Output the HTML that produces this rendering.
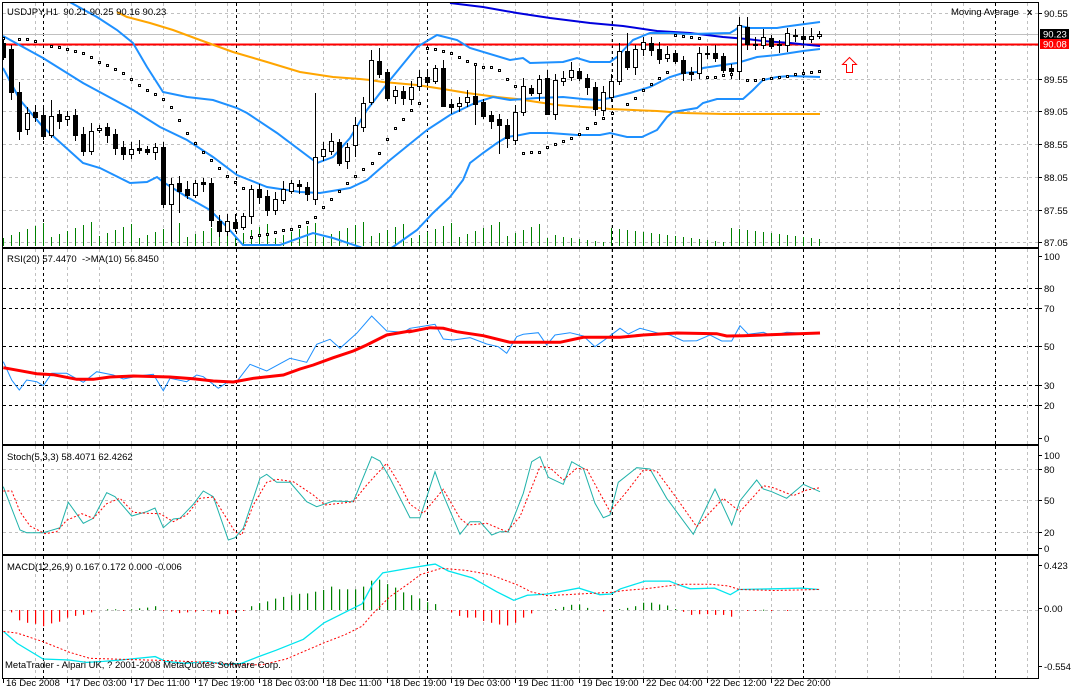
<!DOCTYPE html>
<html><head><meta charset="utf-8"><style>
html,body{margin:0;padding:0;background:#fff;}
svg{display:block;font-family:"Liberation Sans",sans-serif;font-size:9.5px;}
</style></head><body>
<svg id="s" width="1077" height="689" xmlns="http://www.w3.org/2000/svg"></svg>
<script>
var o=[];
function P(a){return a.map(function(p){return p[0].toFixed(1)+','+p[1].toFixed(1)}).join(' ');}
function Z(x0,y0,s,a){return a.map(function(p){return [x0+p[0]/s,y0+p[1]/s]});}
function L(a,c,w,d,clip){o.push('<polyline points="'+P(a)+'" fill="none" stroke="'+c+'" stroke-width="'+w+'"'+(d?' stroke-dasharray="'+d+'"':'')+(clip?' clip-path="url(#'+clip+')"':'')+'/>');}
function T(x,y,t,extra){o.push('<text x="'+x+'" y="'+y+'" '+(extra||'')+'>'+t+'</text>');}
var panels=[[3,247,'cm'],[249,444,'cr'],[446,554,'cs'],[556,678,'cd']];
o.push('<defs>');
panels.forEach(function(p){o.push('<clipPath id="'+p[2]+'"><rect x="3" y="'+p[0]+'" width="1036" height="'+(p[1]-p[0])+'"/></clipPath>');});
o.push('</defs>');
panels.forEach(function(p){
 for(var k=1;k<=32;k++){var x=3+32*k+0.5;o.push('<line x1="'+x+'" y1="'+p[0]+'" x2="'+x+'" y2="'+p[1]+'" stroke="#c0c0c0" stroke-dasharray="3,3"/>');}
});
function H(y,c){o.push('<line x1="3" y1="'+(y+.5)+'" x2="1039" y2="'+(y+.5)+'" stroke="'+c+'" stroke-dasharray="3,3"/>');}
[13,45,79,111,144,177,210,242].forEach(function(y){H(y,'#c0c0c0')});
[288,308,346,385,405].forEach(function(y){H(y,'#000')});
[469,500,532].forEach(function(y){H(y,'#c0c0c0')});
H(610,'#c0c0c0');
panels.forEach(function(p){[43,236,427,612,803,995].forEach(function(x){o.push('<line x1="'+(x+.5)+'" y1="'+p[0]+'" x2="'+(x+.5)+'" y2="'+p[1]+'" stroke="#000" stroke-dasharray="3,3"/>');});});
for(var i=0;i<103;i++){var x=3+8*i+.5;var h=i<70?8+((i*37)%17):4+((i*29)%15);o.push('<line x1="'+x+'" y1="246" x2="'+x+'" y2="'+(246-h)+'" stroke="#008000"/>');}
o.push('<line x1="3" y1="34.5" x2="1039" y2="34.5" stroke="#c0c0c0"/>');
o.push('<line x1="3" y1="44.5" x2="1039" y2="44.5" stroke="#ff0000" stroke-width="2"/>');
L([[117,12],[127,17],[150,23],[173,30],[200,40],[233,52],[267,62],[300,72],[333,77],[360,79],[370,80],[383,82],[417,85],[443,89],[467,93],[497,97],[517,99],[537,102],[557,105],[583,107],[600,108],[610,109],[657,111],[683,113],[723,114],[820,114]],'#ffa500',2,0,'cm');
L([[450,3],[483,7],[517,13],[550,18],[590,23],[623,26],[657,31],[690,33],[723,37],[747,39],[763,41],[790,43],[820,46]],'#0000dd',2,0,'cm');
L([[66,0],[97,17],[117,30],[133,43],[147,67],[163,92],[187,97],[213,100],[237,108],[247,113],[277,133],[317,163],[333,157],[350,138],[367,110],[390,80],[417,47],[437,35],[457,40],[470,48],[510,60],[523,58],[530,63],[563,62],[577,58],[590,62],[610,62],[617,57],[633,40],[650,33],[670,33],[690,34],[730,33],[735,30],[740,26],[750,28],[777,28],[783,27],[790,26],[820,22]],'#1e90ff',2,0,'cm');
L([[3,36],[43,58],[83,83],[133,110],[160,127],[187,140],[213,157],[237,175],[267,187],[300,192],[320,193],[350,188],[367,180],[390,160],[427,130],[450,115],[477,102],[493,97],[510,100],[537,98],[563,97],[583,99],[600,100],[610,98],[630,93],[650,87],[670,77],[683,73],[697,72],[703,68],[723,65],[737,63],[747,60],[757,57],[777,55],[790,53],[803,51],[820,49]],'#1e90ff',2,0,'cm');
L([[3,68],[20,100],[43,127],[83,163],[100,168],[130,183],[147,182],[157,177],[163,182],[187,197],[210,210],[227,227],[243,245],[280,245],[313,233],[333,238],[360,247],[377,256],[393,247],[417,230],[433,213],[450,197],[463,180],[470,163],[483,153],[497,143],[507,137],[520,135],[530,133],[550,133],[577,135],[600,135],[610,133],[627,137],[642,137],[657,130],[667,117],[673,112],[697,108],[703,103],[717,99],[743,99],[753,90],[763,80],[777,77],[790,76],[820,77]],'#1e90ff',2,0,'cm');
var C="B43,57 B49,92 B92,131 W113,129 B112,117 B115,136 W116,135 B114,121 W116,119 B115,135 B134,151 W131,151 W128,130 B127,135 B134,148 B147,154 W149,154 B148,150 B149,152 W147,152 B147,204 W184,204 B183,191 B189,195 W183,195 B182,184 B183,220 B221,231 W221,231 B222,228 W216,227 W189,216 B189,197 B196,210 W199,210 W189,200 W183,191 B184,186 B187,194 W157,199 W149,156 W141,151 B142,163 W147,161 W125,145 W103,127 W60,102 B61,74 B72,98 W90,96 B91,98 W87,99 W77,86 B77,82 W68,81 B68,106 B104,107 W103,106 W97,102 B96,104 B102,116 B115,121 B119,125 B125,138 W112,140 W86,112 B88,93 W79,93 B78,114 W80,114 W78,81 W70,77 B71,78 B78,87 B87,109 W92,110 W81,97 W51,81 B51,67 W49,67 W42,49 B43,50 B49,59 W54,58 B53,61 B60,73 B72,74 W53,73 B53,54 B53,58 B56,70 B68,71 W25,71 B27,44 B44,45 W37,45 B38,46 B44,45 W33,45 B35,36 B36,39 W36,39 W34,36".split(' ');
var hiO={2:82,6:100,39:93,44:117,45:97,46:50,47:48,55:60,59:63,68:70,78:33,92:17,93:17},loO={2:140,20:208,21:242,22:213,44:157,45:132,46:105,55:107,59:125,62:154,63:148,68:115,92:80};
C.forEach(function(c,i){var t=c[0],a=c.slice(1).split(','),top=+a[0],bot=+a[1];if(bot-top<1)bot=top+1;var x=3+8*i;
 var hi=hiO[i]!==undefined?hiO[i]:top-3-(i*7%6),lo=loO[i]!==undefined?loO[i]:bot+3+(i*5%6);
 o.push('<line x1="'+(x+.5)+'" y1="'+hi+'" x2="'+(x+.5)+'" y2="'+lo+'" stroke="#000" clip-path="url(#cm)"/>');
 o.push('<rect x="'+(x-2)+'.5" y="'+(top+.5)+'" width="4" height="'+(bot-top)+'" fill="'+(t=='B'?'#000':'#fff')+'" stroke="#000" clip-path="url(#cm)"/>');});
var sar=Z(0,0,3,[[10,115],[58,118],[82,118],[106,124],[154,137],[178,142],[202,148],[226,152],[250,158],[274,172],[298,185],[322,195],[346,208],[370,220],[394,238],[418,255],[442,270],[466,282],[490,298],[514,322],[538,360],[562,398],[586,428],[610,457],[634,481],[658,505],[682,527],[706,545],[730,563],[754,710],[778,705],[802,703],[826,697],[850,690],[874,688],[898,677],[922,665],[946,650],[970,622],[994,598],[1018,573],[1042,550]])
.concat(Z(350,0,3,[[15,527],[40,508],[65,490],[88,458],[112,418],[136,385],[160,358],[184,330],[208,310],[232,145],[256,148],[280,152],[304,158],[328,170],[352,182],[376,193],[400,200],[424,200],[448,210],[472,238],[496,258],[520,460],[544,457],[568,455],[592,441],[616,433],[640,424],[664,414],[688,403],[712,383]]))
.concat(Z(590,0,3,[[15,370],[40,355],[65,340],[112,313],[136,295],[160,270],[184,253],[208,235],[232,217],[256,104],[280,107],[304,112],[328,115],[352,232],[376,230],[400,226],[424,223],[472,241],[496,241],[520,237],[544,235],[568,230],[592,227],[616,222],[640,220],[664,217],[688,214]]));
sar.forEach(function(p){var x=Math.round(p[0]),y=Math.round(p[1]);o.push('<rect x="'+(x-1)+'" y="'+(y-1)+'" width="3" height="3" fill="#000"/><rect x="'+x+'" y="'+y+'" width="1" height="1" fill="#fff"/>');});
L(Z(0,245,3,[[10,350],[35,405],[58,435],[80,405],[110,410],[130,422],[155,385],[200,385],[250,412],[290,380],[340,390],[370,402],[420,392],[460,388],[490,437],[510,400],[560,410],[590,390],[610,395],[655,430],[680,413],[710,410],[750,358],[800,378],[870,340],[920,352],[950,298],[990,283],[1020,310],[1070,265],[1115,213],[1160,258],[1210,262],[1230,250]]).concat(Z(410,245,3,[[0,250],[30,245],[75,238],[100,282],[130,285],[180,278],[230,297],[265,305],[290,325],[320,275],[340,268],[385,263],[410,300],[435,270],[480,263],[520,273],[555,305],[590,280],[630,250],[655,267],[690,250],[740,263],[780,270],[820,288],[860,287],[900,270],[935,288],[965,288],[990,242],[1015,268],[1060,262],[1085,272],[1130,262],[1185,265]])),'#1e90ff',1);
L(Z(0,245,3,[[10,368],[60,377],[110,386],[160,389],[230,403],[280,403],[330,396],[400,393],[510,396],[580,401],[640,408],[700,411],[760,400],[850,390],[900,372],[940,360],[1000,338],[1060,318],[1100,300],[1160,270],[1230,258]]).concat(Z(410,245,3,[[0,260],[60,248],[100,250],[140,260],[220,272],[300,292],[450,292],[520,277],[630,277],[700,270],[800,264],[920,266],[950,273],[1000,272],[1230,264]])),'#ff0000',3);
L(Z(0,245,3,[[10,725],[60,855],[80,863],[130,863],[180,848],[205,772],[250,835],[280,820],[320,743],[345,755],[395,813],[440,800],[465,789],[490,848],[520,822],[540,820],[580,778],[610,738],[640,755],[685,885],[705,878],[730,850],[780,700],[800,688],[830,712],[870,712],[920,770],[950,785],[1000,768],[1060,770],[1115,635],[1140,648],[1170,700],[1230,818]]).concat(Z(410,245,3,[[0,818],[30,818],[75,680],[100,750],[150,868],[180,830],[210,830],[245,870],[270,860],[295,860],[340,745],[365,650],[390,635],[415,697],[460,718],[485,650],[520,670],[555,775],[580,818],[600,810],[625,712],[680,668],[720,672],[770,760],[850,868],[915,732],[965,840],[990,767],[1040,705],[1060,732],[1085,740],[1130,760],[1180,718],[1230,740]])),'#20b2aa',1);
L(Z(0,245,3,[[10,738],[35,738],[60,800],[90,843],[135,866],[170,860],[200,826],[245,806],[280,820],[320,776],[360,760],[400,802],[440,805],[480,806],[520,830],[560,810],[600,760],[640,756],[705,860],[725,870],[760,780],[800,712],[830,703],[880,710],[940,750],[975,780],[1020,775],[1060,770],[1100,720],[1160,655],[1200,720],[1230,778]]).concat(Z(410,245,3,[[0,778],[40,805],[100,733],[150,820],[175,840],[230,835],[290,860],[330,815],[390,665],[420,668],[460,705],[500,670],[530,672],[600,800],[650,740],[700,675],[740,678],[800,760],[860,845],[940,760],[990,800],[1060,722],[1090,728],[1150,752],[1190,735],[1230,728]])),'#ff0000',1,'2,2');
var hz=[[35,210],[57,233],[80,240],[103,243],[126,250],[149,242],[172,237],[195,225],[218,220],[242,217],[265,210],[310,201],[333,201],[355,203],[382,201],[405,198],[428,196],[452,192],[475,206],[498,208],[520,212],[543,210],[566,208],[590,206],[612,210],[635,215],[660,215],[683,210],[707,206],[730,192],[752,183],[776,178],[800,170],[822,165],[846,160],[869,156],[892,155],[916,150],[940,145],[963,135],[986,143],[1010,143],[1032,143],[1056,135],[1078,118],[1102,115],[1125,128],[1148,138],[1171,152],[1195,160],[1218,170],[1242,180],[1266,186],[1312,210],[1335,220],[1358,225],[1381,225],[1405,235],[1428,240],[1452,245],[1475,248],[1498,240],[1520,225],[1545,213]];
var hb=Z(0,540,2.9,hz).concat(Z(530,540,2.87,[[73,198],[97,192],[120,186],[142,185],[165,195],[210,205],[257,198],[280,195],[303,190],[325,180],[348,180],[372,185],[395,188],[418,198],[440,206],[463,215],[487,213],[510,213],[532,215],[555,215],[578,220],[625,202],[648,202],[670,200],[693,202],[740,203]]));
hb.forEach(function(p){var i=Math.round((p[0]-3)/8),x=3+8*i,y=p[1];var t=Math.min(y,610),h=Math.max(1,Math.abs(y-610));o.push('<rect x="'+x+'" y="'+t.toFixed(1)+'" width="1.2" height="'+h.toFixed(1)+'" fill="'+(y<610?'#008000':'#ff0000')+'"/>');});
L(Z(0,540,2.9,[[10,265],[50,300],[125,345],[200,348],[250,355],[300,352],[350,348],[450,338],[480,352],[540,358],[600,352],[660,362],[700,358],[750,338],[800,320],[880,288],[940,240],[1000,210],[1050,185],[1080,130],[1110,95],[1180,83],[1240,73],[1262,70],[1300,90],[1370,110],[1440,150],[1490,175],[1530,160]]).concat(Z(530,540,2.87,[[0,158],[50,155],[140,138],[200,157],[233,155],[260,140],[330,118],[400,118],[430,130],[460,140],[530,138],[575,157],[600,142],[700,140],[780,138],[830,142]])),'#00e5ee',1.3);
L(Z(0,540,2.9,[[10,265],[50,270],[125,295],[200,325],[260,343],[350,346],[500,350],[600,355],[680,362],[760,362],[830,345],[940,298],[1000,275],[1050,250],[1080,215],[1130,165],[1180,130],[1220,100],[1280,82],[1350,88],[1420,100],[1500,130],[1530,145]]).concat(Z(530,540,2.87,[[0,148],[50,160],[140,155],[233,150],[270,145],[330,140],[410,130],[440,127],[520,127],[570,132],[600,142],[700,145],[830,142]])),'#ff0000',1,'2,2');
panels.forEach(function(p){o.push('<rect x="2.5" y="'+(p[0]-.5)+'" width="1036" height="'+(p[1]-p[0]+1)+'" fill="none" stroke="#000"/>');});
function R(y,t){o.push('<line x1="1039" y1="'+(y+.5)+'" x2="1042" y2="'+(y+.5)+'" stroke="#000"/>');T(1044,y+4,t);}
[[13,'90.55'],[79,'89.55'],[111,'89.05'],[144,'88.55'],[177,'88.05'],[210,'87.55'],[242,'87.05'],[256,'100'],[288,'80'],[308,'70'],[346,'50'],[385,'30'],[405,'20'],[438,'0'],[455,'100'],[469,'80'],[500,'50'],[532,'20'],[548,'0'],[565,'0.423'],[608,'0.00'],[666,'-0.554']].forEach(function(a){R(a[0],a[1])});
o.push('<rect x="1040" y="29" width="29" height="10" fill="#000"/>');T(1043,37.5,'90.23','fill="#fff"');
o.push('<rect x="1040" y="39" width="29" height="10" fill="#ff0000"/>');T(1043,47.5,'90.08','fill="#fff"');
['16 Dec 2008','17 Dec 03:00','17 Dec 11:00','17 Dec 19:00','18 Dec 03:00','18 Dec 11:00','18 Dec 19:00','19 Dec 03:00','19 Dec 11:00','19 Dec 19:00','22 Dec 04:00','22 Dec 12:00','22 Dec 20:00'].forEach(function(t,k){var x=3+64*k;o.push('<line x1="'+(x+.5)+'" y1="678" x2="'+(x+.5)+'" y2="683" stroke="#000"/>');T(x+3,686,t);});
T(7,15,'USDJPY,H1  90.21 90.25 90.16 90.23','xml:space="preserve"');
T(7,262,'RSI(20) 57.4470  -&gt;MA(10) 56.8450','xml:space="preserve"');
T(7,460,'Stoch(5,3,3) 58.4071 62.4262');
T(7,570,'MACD(12,26,9) 0.167 0.172 0.000 -0.006');
T(5,668,'MetaTrader - Alpari UK, ? 2001-2008 MetaQuotes Software Corp.');
T(951,15,'Moving Average');
T(1027,15,'x','font-weight="bold"');
o.push('<path d="M849.5,57.5 L856.5,64.5 L852.5,64.5 L852.5,72.5 L846.5,72.5 L846.5,64.5 L842.5,64.5 Z" fill="#fff" stroke="#ff0000"/>');
document.getElementById('s').innerHTML=o.join('');
</script>
</body></html>
